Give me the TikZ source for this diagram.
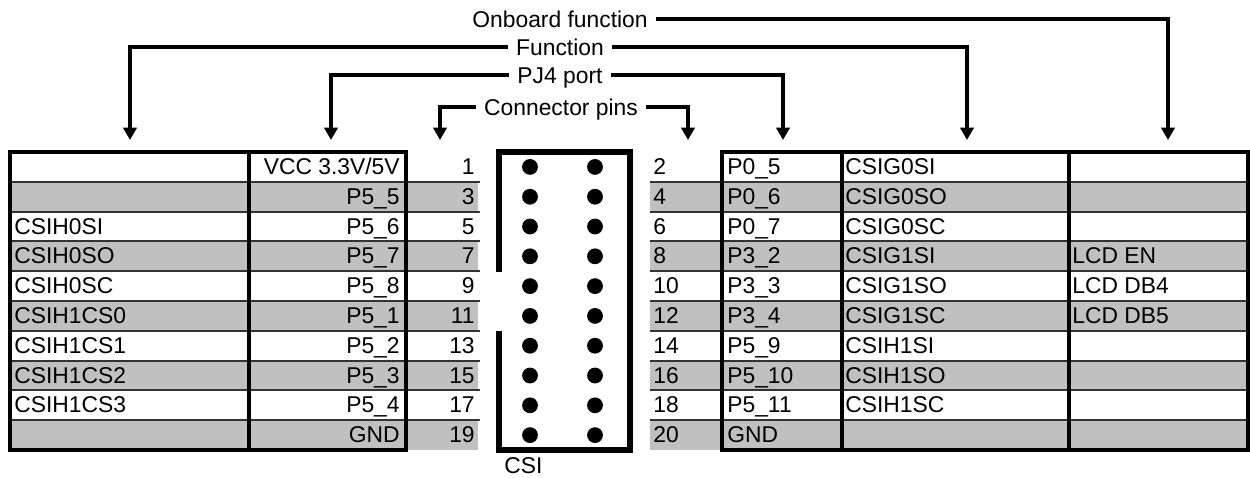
\documentclass[tikz,border=0pt]{standalone}
\usepackage{fontspec}
\setmainfont{Liberation Sans}
\usepackage{tikz}
\usetikzlibrary{arrows.meta,calc}
\definecolor{rowgrey}{HTML}{C0C0C0}
\tikzset{
  cell/.style={inner sep=0pt, font=\fontsize{13}{15}\selectfont},
  lbl/.style={inner xsep=4.5pt, inner ysep=0pt, text height=9.3pt, text depth=0pt, font=\fontsize{13}{15}\selectfont},
  pointer/.style={line width=2.5pt, -{Triangle[length=7pt,width=7.5pt]}},
  frame/.style={line width=2.8pt},
  sep/.style={line width=1.1pt, black!80},
}

\begin{document}
\begin{tikzpicture}[x=0.02cm,y=-0.02cm]
\useasboundingbox (0,0) rectangle (1250,477);
\foreach \r in {2,4,...,10}{
  \fill[rowgrey] (10,{152+(\r-1)*29.8}) rectangle (478,{152+\r*29.8});
  \fill[rowgrey] (650,{152+(\r-1)*29.8}) rectangle (1248,{152+\r*29.8});
}
\foreach \r in {1,...,9}{
  \draw[sep] (10,{152+\r*29.8}) -- (480,{152+\r*29.8});
  \draw[sep] (650,{152+\r*29.8}) -- (1248,{152+\r*29.8});
}
\foreach \fn/\port/\pin [count=\r] in {{}/{VCC 3.3V/5V}/1, {}/P5\_5/3, CSIH0SI/P5\_6/5,
    CSIH0SO/P5\_7/7, CSIH0SC/P5\_8/9, CSIH1CS0/P5\_1/11, CSIH1CS1/P5\_2/13,
    CSIH1CS2/P5\_3/15, CSIH1CS3/P5\_4/17, {}/GND/19}{
  \node[cell, anchor=base west] (fnL\r) at (14,{152+(\r-1)*29.8+22.5}) {\fn};
  \node[cell, anchor=base east] (portL\r) at (400,{152+(\r-1)*29.8+22.5}) {\port};
  \node[cell, anchor=base east] (pinL\r) at (475,{152+(\r-1)*29.8+22.5}) {\pin};
}
\foreach \pin/\port/\fn/\onb [count=\r] in {2/P0\_5/CSIG0SI/{}, 4/P0\_6/CSIG0SO/{},
    6/P0\_7/CSIG0SC/{}, 8/P3\_2/CSIG1SI/LCD EN, 10/P3\_3/CSIG1SO/LCD DB4,
    12/P3\_4/CSIG1SC/LCD DB5, 14/P5\_9/CSIH1SI/{}, 16/P5\_10/CSIH1SO/{},
    18/P5\_11/CSIH1SC/{}, 20/GND/{}/{}}{
  \node[cell, anchor=base west] (pinR\r) at (653,{152+(\r-1)*29.8+22.5}) {\pin};
  \node[cell, anchor=base west] (portR\r) at (727,{152+(\r-1)*29.8+22.5}) {\port};
  \node[cell, anchor=base west] (fnR\r) at (845,{152+(\r-1)*29.8+22.5}) {\fn};
  \node[cell, anchor=base west] (onbR\r) at (1072,{152+(\r-1)*29.8+22.5}) {\onb};
}
\draw[frame] (10,152) rectangle (406,450) (249,152) -- (249,450);
\draw[frame] (722,152) rectangle (1248,450) (842,152) -- (842,450) (1069,152) -- (1069,450);
\draw[line width=3.4pt] (499,272) -- (499,152) -- (630,152) -- (630,450) -- (499,450) -- (499,331);
\foreach \r in {1,...,10}
  \fill (530,{152+(\r-0.5)*29.8}) circle[radius=4.5pt] (595,{152+(\r-0.5)*29.8}) circle[radius=4.5pt];
\node[cell, anchor=base west] (csi) at (504,473) {CSI};

\node[lbl] (onb) at (560,19) {Onboard function};
\node[lbl] (fun) at (560,47) {Function};
\node[lbl] (pj4) at (560,75) {PJ4 port};
\node[lbl] (con) at (561,107) {Connector pins};
\coordinate (aOnb) at (1168,140);
\coordinate (aFnL) at (130,140);
\coordinate (aFnR) at (967,140);
\coordinate (aPjL) at (331,140);
\coordinate (aPjR) at (783,140);
\coordinate (aConL) at (440,140);
\coordinate (aConR) at (688,140);
\draw[pointer] (onb.east) -| (aOnb);
\draw[pointer] (fun.west) -| (aFnL);
\draw[pointer] (fun.east) -| (aFnR);
\draw[pointer] (pj4.west) -| (aPjL);
\draw[pointer] (pj4.east) -| (aPjR);
\draw[pointer] (con.west) -| (aConL);
\draw[pointer] (con.east) -| (aConR);
\end{tikzpicture}
\end{document}
